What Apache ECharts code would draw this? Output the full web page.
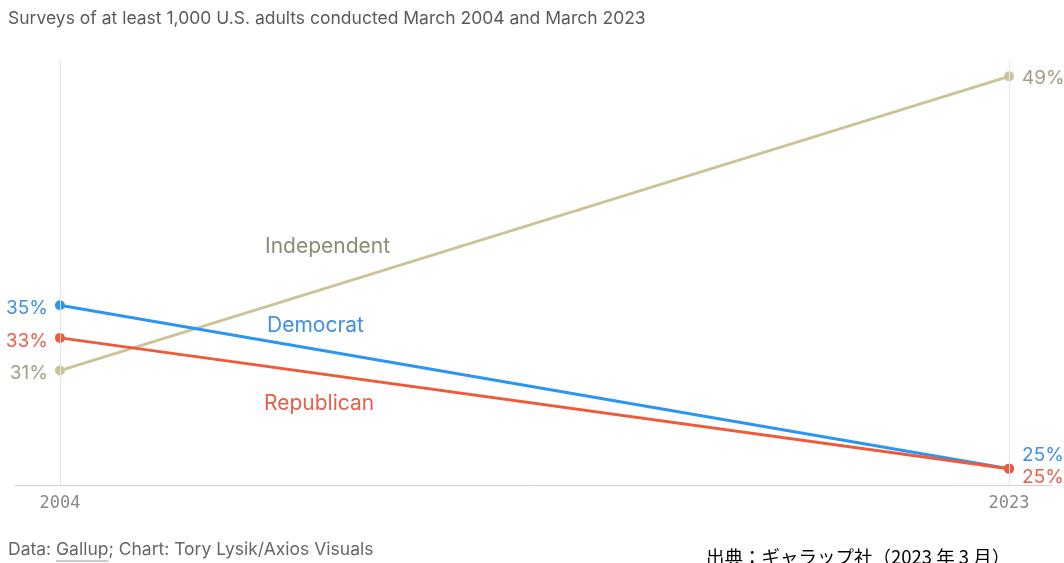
<!DOCTYPE html>
<html><head><meta charset="utf-8">
<script src="https://cdn.jsdelivr.net/npm/echarts@6/dist/echarts.min.js"></script>
<style>html,body{margin:0;padding:0;background:#fff;}#c{width:1064px;height:563px;}</style>
</head><body><div id="c"></div>
<script>
const years = [2004, 2023];
const independent = [31, 49];
const democrat = [35, 25];
const republican = [33, 25];
const seriesNames = ['Independent', 'Democrat', 'Republican'];
const tickYears = [2004, 2023];

const cLine = {Independent: '#cdc398', Democrat: '#2b95f2', Republican: '#ee5a3a'};
const cText = {Independent: '#a39e86', Democrat: '#3f8fe6', Republican: '#e5604a'};
const FONT = 'Inter, Roboto, sans-serif';

function mk(name, vals, endOffsets) {
  return {
    name: name, type: 'line', data: years.map((y, i) => ({
      value: [y, vals[i]],
      label: {
        show: true, position: i === 0 ? 'left' : 'right',
        distance: i === 0 ? 7 : 8,
        offset: endOffsets[i],
        formatter: p => p.value[1] + '%',
        color: cText[name], fontSize: 19, fontFamily: FONT
      }
    })),
    symbol: 'circle', symbolSize: 10,
    lineStyle: {width: 3, color: cLine[name]},
    itemStyle: {color: cLine[name]},
    z: name === 'Independent' ? 2 : (name === 'Democrat' ? 3 : 4),
    animation: false
  };
}

// measure text for the footer underline
const cv = document.createElement('canvas').getContext('2d');
cv.font = '17.5px ' + FONT;
const footer = 'Data: Gallup; Chart: Tory Lysik/Axios Visuals';
const u0 = 8 + cv.measureText('Data: ').width;
const u1 = 8 + cv.measureText('Data: Gallup').width;

const chart = echarts.init(document.getElementById('c'));
const series = [
  mk('Independent', independent, [[0, 3], [0, 2]]),
  mk('Democrat', democrat, [[0, 3], [0, -13]]),
  mk('Republican', republican, [[0, 3], [0, 9]])
];
series[0].markLine = {
  silent: true, symbol: 'none', label: {show: false},
  lineStyle: {color: '#e6e6e6', width: 1, type: 'solid'},
  data: tickYears.map(y => ({xAxis: y}))
};
chart.setOption({
  backgroundColor: '#fff',
  animation: false,
  grid: {left: 15, right: 12, top: 60, bottom: 78, outerBoundsMode: 'none'},
  xAxis: {
    type: 'value', min: 2003.1, max: 2023.86,
    axisLine: {show: true, lineStyle: {color: '#d0d0d0', width: 1}},
    axisTick: {show: false},
    splitLine: {show: false},
    axisLabel: {
      customValues: tickYears, formatter: v => String(v), color: '#8a8a8a', fontSize: 17,
      fontFamily: 'DejaVu Sans Mono, monospace', margin: 10
    }
  },
  yAxis: {type: 'value', min: 24, max: 50, show: false, splitLine: {show: false}},
  series: series,
  graphic: [
    {type: 'text', left: 8, top: 10, style: {text: 'Surveys of at least 1,000 U.S. adults conducted March 2004 and March 2023', fill: '#5a5a5a', fontSize: 17.5, fontFamily: FONT}},
    {type: 'text', left: 265, top: 236, style: {text: 'Independent', fill: '#8f8a74', fontSize: 21, fontFamily: FONT}},
    {type: 'text', left: 267, top: 315, style: {text: 'Democrat', fill: '#3f8fe6', fontSize: 21, fontFamily: FONT}},
    {type: 'text', left: 264, top: 393, style: {text: 'Republican', fill: '#e5604a', fontSize: 21, fontFamily: FONT}},
    {type: 'text', left: 8, top: 541, style: {text: footer, fill: '#666', fontSize: 17.5, fontFamily: FONT}},
    {type: 'line', shape: {x1: u0, y1: 561, x2: u1, y2: 561}, style: {stroke: '#999', lineWidth: 1}},
    {type: 'text', left: 706, top: 548, style: {text: '出典：ギャラップ社（2023 年 3 月）', fill: '#000', fontSize: 18.5, fontFamily: 'Noto Sans CJK JP'}}
  ]
});
</script></body></html>
